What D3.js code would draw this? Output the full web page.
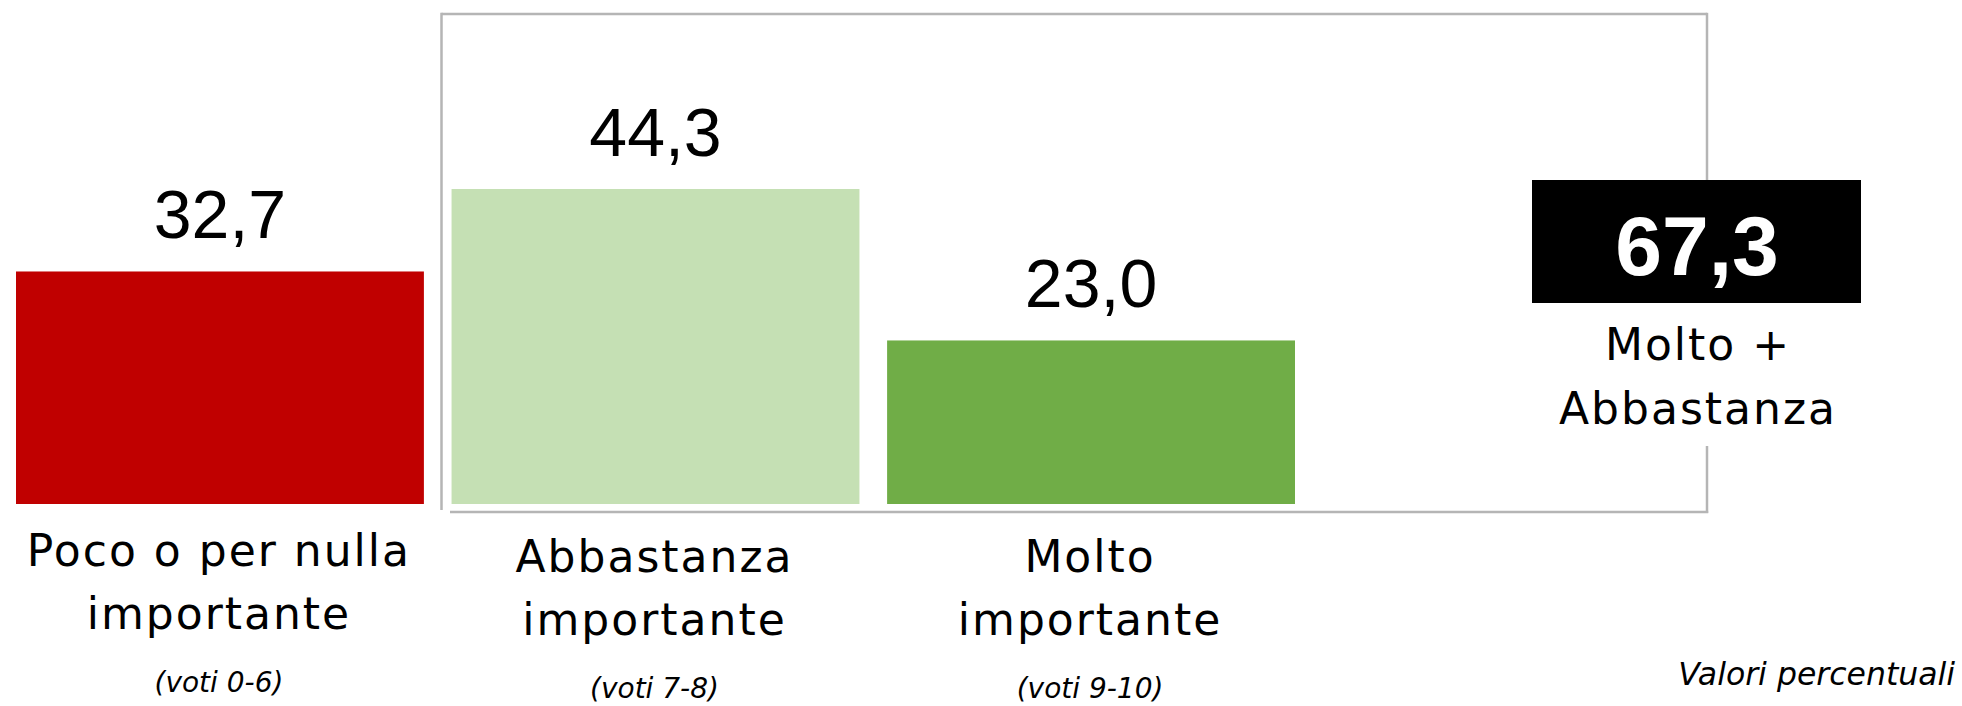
<!DOCTYPE html>
<html>
<head>
<meta charset="utf-8">
<script src="https://cdn.jsdelivr.net/npm/d3@7"></script>
<style>
  html, body { margin: 0; padding: 0; background: #ffffff; }
  svg { display: block; }
</style>
</head>
<body>
<svg id="chart" width="1962" height="706"></svg>
<script>
// ---- data ----
const categories = ["Poco o per nulla importante", "Abbastanza importante", "Molto importante"];
const values = [32.7, 44.3, 23.0];
const valueLabels = ["32,7", "44,3", "23,0"];
const labelLines = [["Poco o per nulla", "importante"], ["Abbastanza", "importante"], ["Molto", "importante"]];
const subLabels = ["(voti 0-6)", "(voti 7-8)", "(voti 9-10)"];
const colors = ["#C00000", "#C5E0B4", "#70AD47"];
const totalValueLabel = "67,3";
const totalLabelLines = ["Molto +", "Abbastanza"];
const noteText = "Valori percentuali";

// ---- layout ----
const svg = d3.select("#chart");
const labelFont = "'DejaVu Sans', sans-serif";
const numFont = "'Liberation Sans', Arial, sans-serif";

const x = d3.scaleBand().domain(categories).range([16, 1295]).paddingInner(0.0635).paddingOuter(0);
const y = d3.scaleLinear().domain([0, 44.3]).range([504, 189]);

// bracket box (grey) around the two green bars + total
const boxColor = "#b5b5b5";
const box = svg.append("g").attr("stroke", boxColor).attr("stroke-width", 2.5).attr("fill", "none");
box.append("line").attr("x1", 441.5).attr("x2", 1707).attr("y1", 14).attr("y2", 14);
box.append("line").attr("x1", 441.5).attr("x2", 441.5).attr("y1", 12.8).attr("y2", 510);
box.append("line").attr("x1", 450).attr("x2", 1708.2).attr("y1", 512).attr("y2", 512);
box.append("line").attr("x1", 1707).attr("x2", 1707).attr("y1", 12.8).attr("y2", 181);
box.append("line").attr("x1", 1707).attr("x2", 1707).attr("y1", 446).attr("y2", 513);

// bars
svg.append("g").selectAll("rect").data(categories).join("rect")
  .attr("x", d => x(d))
  .attr("width", x.bandwidth())
  .attr("y", (d, i) => y(values[i]))
  .attr("height", (d, i) => y(0) - y(values[i]))
  .attr("fill", (d, i) => colors[i]);

// value labels
svg.append("g").selectAll("text").data(categories).join("text")
  .attr("x", d => x(d) + x.bandwidth() / 2)
  .attr("y", (d, i) => y(values[i]) - 33)
  .attr("text-anchor", "middle")
  .attr("font-family", numFont)
  .attr("font-size", 68)
  .attr("fill", "#000")
  .text((d, i) => valueLabels[i]);

// category labels
const labelOffsets = [-6, 0, 0];
const catG = svg.append("g");
categories.forEach((c, i) => {
  const cx = x(c) + x.bandwidth() / 2 - 1;
  labelLines[i].forEach((line, j) => {
    catG.append("text")
      .attr("x", cx)
      .attr("y", 572 + labelOffsets[i] + j * 63)
      .attr("text-anchor", "middle")
      .attr("font-family", labelFont)
      .attr("font-size", 44)
      .attr("letter-spacing", 2)
      .attr("fill", "#000")
      .text(line);
  });
  catG.append("text")
    .attr("x", cx)
    .attr("y", 698 + labelOffsets[i])
    .attr("text-anchor", "middle")
    .attr("font-family", labelFont)
    .attr("font-style", "italic")
    .attr("font-size", 28)
    .attr("fill", "#000")
    .text(subLabels[i]);
});

// total box
const tcx = 1697;
svg.append("rect").attr("x", 1532).attr("y", 180).attr("width", 329).attr("height", 123).attr("fill", "#000");
svg.append("text")
  .attr("x", tcx).attr("y", 275)
  .attr("text-anchor", "middle")
  .attr("font-family", numFont)
  .attr("font-weight", "bold")
  .attr("font-size", 84)
  .attr("fill", "#fff")
  .text(totalValueLabel);
totalLabelLines.forEach((line, j) => {
  svg.append("text")
    .attr("x", tcx + 1).attr("y", 360 + j * 64)
    .attr("text-anchor", "middle")
    .attr("font-family", labelFont)
    .attr("font-size", 44)
    .attr("letter-spacing", 2)
    .attr("fill", "#000")
    .text(line);
});

// note
svg.append("text")
  .attr("x", 1955).attr("y", 685)
  .attr("text-anchor", "end")
  .attr("font-family", labelFont)
  .attr("font-style", "italic")
  .attr("font-size", 31.5)
  .attr("fill", "#000")
  .text(noteText);
</script>
</body>
</html>
